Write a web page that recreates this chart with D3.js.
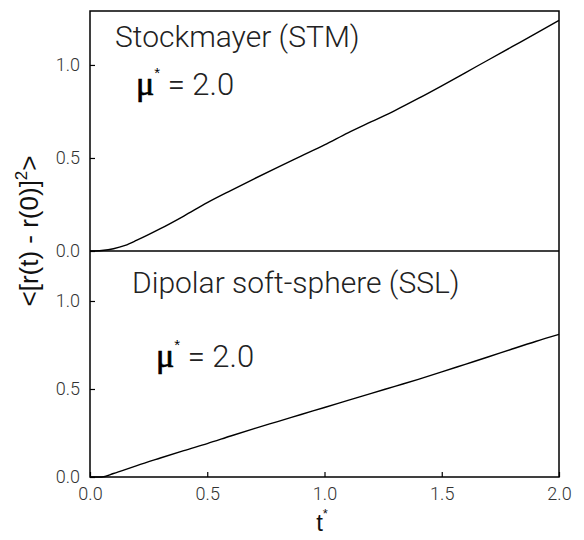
<!DOCTYPE html>
<html>
<head>
<meta charset="utf-8">
<script src="https://cdn.jsdelivr.net/npm/d3@7"></script>
<style>
  body { margin: 0; background: #fff; }
  svg { display: block; }
  .tick text { font-family: Roboto, "Liberation Sans", sans-serif; font-weight: 300; font-size: 18px; fill: #333; }
  .lbl { font-family: Roboto, "Liberation Sans", sans-serif; font-weight: 300; fill: #222; }
</style>
</head>
<body>
<script>
// t* values (shared by both panels)
const tValues = [0, 0.05, 0.1, 0.15, 0.2, 0.3, 0.4, 0.5, 0.6, 0.7, 0.8, 0.9, 1.0,
                 1.1, 1.2, 1.3, 1.4, 1.5, 1.6, 1.7, 1.8, 1.9, 2.0];
// Stockmayer (STM) mean square displacement
const stmValues = [0, 0.003, 0.012, 0.03, 0.058, 0.12, 0.188, 0.26, 0.325, 0.388, 0.45, 0.51, 0.57,
                   0.635, 0.695, 0.755, 0.82, 0.888, 0.958, 1.028, 1.098, 1.168, 1.24];
// Dipolar soft-sphere (SSL)
const sslValues = [0, 0, 0.02, 0.042, 0.065, 0.108, 0.15, 0.19, 0.233, 0.275, 0.315, 0.355, 0.395,
                   0.435, 0.475, 0.515, 0.555, 0.597, 0.64, 0.683, 0.727, 0.77, 0.81];
const yTicks = [0, 0.5, 1.0];
const xTicks = [0, 0.5, 1.0, 1.5, 2.0];

const width = 584, height = 540;
const plotL = 90, plotR = 559, plotT = 11, plotMid = 251, plotB = 477;

const svg = d3.select("body").append("svg")
    .attr("width", width)
    .attr("height", height);

const x = d3.scaleLinear().domain([0, 2]).range([plotL, plotR]);
const yTop = d3.scaleLinear().domain([0, 1.29]).range([plotMid, plotT]);
const yBot = d3.scaleLinear().domain([0, 1.284]).range([plotB, plotMid]);

// y axes, ticks pointing inward
[yTop, yBot].forEach(y => {
  svg.append("g")
      .attr("transform", `translate(${plotL},0)`)
      .call(d3.axisLeft(y).tickValues(yTicks).tickFormat(d3.format(".1f"))
          .tickSizeInner(-5).tickSizeOuter(0).tickPadding(10))
      .call(g => g.select(".domain").remove())
      .call(g => g.selectAll(".tick line").attr("stroke", "#000").attr("stroke-width", 1.2));
});

// x axis
svg.append("g")
    .attr("transform", `translate(0,${plotB})`)
    .call(d3.axisBottom(x).tickValues(xTicks).tickFormat(d3.format(".1f"))
        .tickSizeInner(-5).tickSizeOuter(0).tickPadding(10))
    .call(g => g.select(".domain").remove())
    .call(g => g.selectAll(".tick line").attr("stroke", "#000").attr("stroke-width", 1.2));

// frame + divider
svg.append("rect")
    .attr("x", plotL).attr("y", plotT)
    .attr("width", plotR - plotL).attr("height", plotB - plotT)
    .attr("fill", "none").attr("stroke", "#000").attr("stroke-width", 1.5);
svg.append("line")
    .attr("x1", plotL).attr("x2", plotR).attr("y1", plotMid).attr("y2", plotMid)
    .attr("stroke", "#000").attr("stroke-width", 1.5);

// curves
const curve = (y, vals) => d3.line()
    .x((d, i) => x(tValues[i]))
    .y(d => y(d))
    .curve(d3.curveMonotoneX)(vals);

svg.append("path").attr("d", curve(yTop, stmValues))
    .attr("fill", "none").attr("stroke", "#000").attr("stroke-width", 1.4);
svg.append("path").attr("d", curve(yBot, sslValues))
    .attr("fill", "none").attr("stroke", "#000").attr("stroke-width", 1.4);

// panel titles
svg.append("text").attr("class", "lbl")
    .attr("x", 115).attr("y", 47)
    .style("font-size", "30px")
    .text("Stockmayer (STM)");
svg.append("text").attr("class", "lbl")
    .attr("x", 132).attr("y", 293)
    .style("font-size", "30px")
    .text("Dipolar soft-sphere (SSL)");

// mu* = 2.0 labels
function muLabel(x0, y0) {
  const t = svg.append("text").attr("x", x0).attr("y", y0);
  t.append("tspan")
      .style("font-family", "'Liberation Serif', serif")
      .style("font-size", "34px")
      .style("stroke", "#000").style("stroke-width", 0.7)
      .text("μ");
  t.append("tspan")
      .attr("dy", -17)
      .style("font-family", "'Liberation Sans', sans-serif")
      .style("font-size", "15px")
      .text("*");
  t.append("tspan")
      .attr("dy", 17)
      .attr("class", "lbl")
      .style("font-size", "31px")
      .text(" = 2.0");
}
muLabel(136, 95);
muLabel(156, 367);

// y label
const yl = svg.append("text")
    .attr("transform", "translate(38,231) rotate(-90)")
    .attr("text-anchor", "middle")
    .style("font-family", "'Liberation Sans', sans-serif")
    .style("font-size", "26px")
    .style("fill", "#111");
yl.append("tspan").text("<[r(t) - r(0)]");
yl.append("tspan").attr("dy", -11).style("font-size", "17px").text("2");
yl.append("tspan").attr("dy", 11).text(">");

// x label
const xl = svg.append("text")
    .attr("x", 322).attr("y", 531)
    .attr("text-anchor", "middle")
    .style("font-family", "'Liberation Sans', sans-serif")
    .style("font-size", "24px")
    .style("fill", "#111");
xl.append("tspan").text("t");
xl.append("tspan").attr("dy", -13).style("font-size", "13px").text("*");
</script>
</body>
</html>
